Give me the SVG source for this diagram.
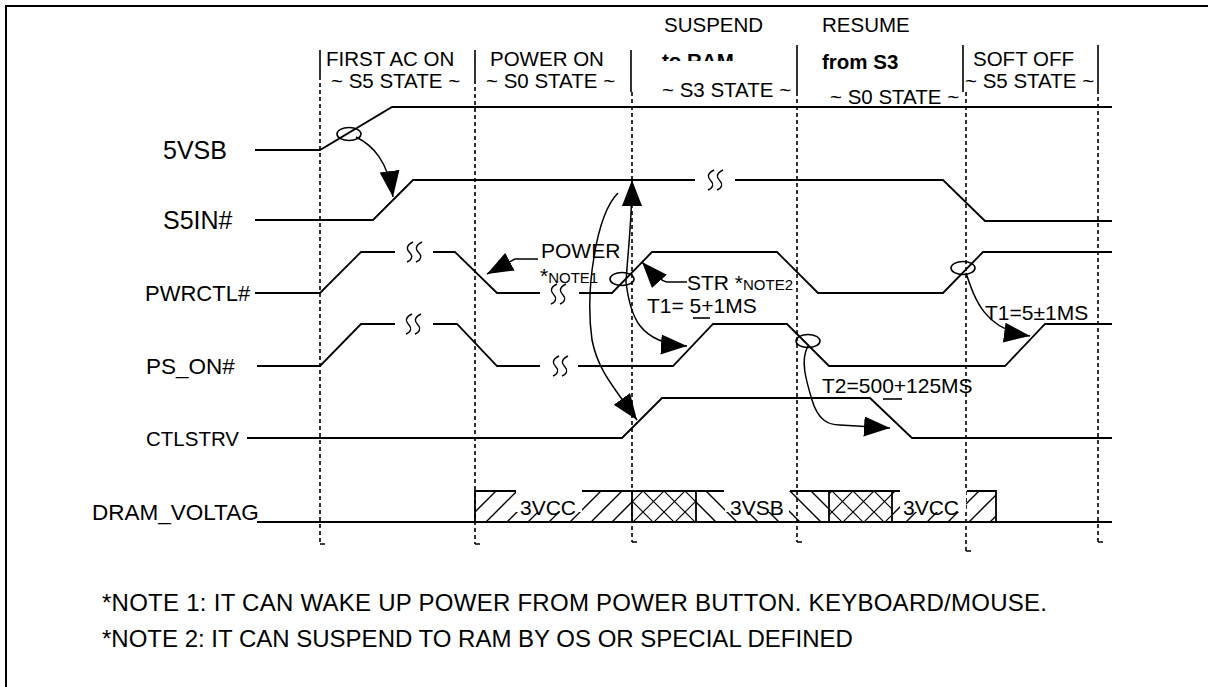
<svg xmlns="http://www.w3.org/2000/svg" width="1208" height="687" viewBox="0 0 1208 687">
<style>
.t{font-family:"Liberation Sans",Arial,sans-serif;font-size:21px;fill:#000}
.h{font-size:20.5px}
.note{font-size:24px}
.b{font-weight:bold}
.sm{font-size:15px}
.sig{fill:none;stroke:#000;stroke-width:1.8;stroke-linejoin:miter}
.sq{fill:none;stroke:#000;stroke-width:1.4}
.dash{fill:none;stroke:#000;stroke-width:1.6;stroke-dasharray:4 3}
.bar{fill:none;stroke:#000;stroke-width:1.6}
.arr{fill:none;stroke:#000;stroke-width:1.5}
.ell{fill:none;stroke:#000;stroke-width:1.6}
.box{fill:none;stroke:#000;stroke-width:1.8}
</style>
<defs>
<marker id="ah" markerUnits="userSpaceOnUse" markerWidth="28" markerHeight="22" refX="26" refY="10" orient="auto" viewBox="0 0 28 22">
<path d="M0,0 L26,10 L0,20 z" fill="#000"/>
</marker>
<pattern id="fwd" patternUnits="userSpaceOnUse" x="475" y="491" width="21" height="21">
<path d="M-2,2 l4,-4 M0,21 l21,-21 M19,23 l4,-4" stroke="#000" stroke-width="1.4"/>
</pattern>
<pattern id="bwd" patternUnits="userSpaceOnUse" x="475" y="491" width="21" height="21">
<path d="M-2,19 l4,4 M0,0 l21,21 M19,-2 l4,4" stroke="#000" stroke-width="1.4"/>
</pattern>
<pattern id="crs" patternUnits="userSpaceOnUse" x="475" y="491" width="21" height="21">
<path d="M-2,2 l4,-4 M0,21 l21,-21 M19,23 l4,-4 M-2,19 l4,4 M0,0 l21,21 M19,-2 l4,4" stroke="#000" stroke-width="1.2"/>
</pattern>
<clipPath id="clipRam"><rect x="640" y="0" width="160" height="61"/></clipPath>
</defs>
<rect width="1208" height="687" fill="#fff"/>
<g id="frame">
<path d="M6,687 L6,6 L1208,6" fill="none" stroke="#000" stroke-width="2"/>
</g>
<g id="header">
<text class="t h" x="326" y="66">FIRST AC ON</text>
<text class="t h" x="331" y="88">~ S5 STATE ~</text>
<text class="t h" x="490" y="66">POWER ON</text>
<text class="t h" x="486" y="88">~ S0 STATE ~</text>
<text class="t h" x="664" y="32">SUSPEND</text>
<text class="t h b" x="662" y="68" clip-path="url(#clipRam)">to RAM</text>
<text class="t h" x="662" y="97">~ S3 STATE ~</text>
<text class="t h" x="822" y="32">RESUME</text>
<text class="t h b" x="822" y="69">from S3</text>
<text class="t h" x="830" y="104">~ S0 STATE ~</text>
<text class="t h" x="973" y="66">SOFT OFF</text>
<text class="t h" x="965" y="88">~ S5 STATE ~</text>
</g>
<g id="gridlines">
<path class="bar" d="M320,50 V76 M475,50 V80 M631,50 V92 M797,45 V92 M963,45 V92 M1098,45 V90"/>
<path class="dash" d="M320,76 V544 M475,80 V544 M632,92 V542 M797,92 V542 M966,92 V551 M1098,90 V542"/>
<path class="bar" d="M320,544 h5 M475,544 h5 M632,542 h5 M797,542 h5 M966,551 h5 M1098,542 h5"/>
</g>
<g id="labels">
<text class="t" x="163" y="159" style="font-size:25px">5VSB</text>
<text class="t" x="163" y="229" style="font-size:25px">S5IN#</text>
<text class="t" x="145" y="301" style="font-size:22px">PWRCTL#</text>
<text class="t" x="146" y="374" style="font-size:22.5px">PS_ON#</text>
<text class="t" x="146" y="446" style="font-size:20.5px">CTLSTRV</text>
<text class="t" x="92" y="520" style="font-size:22.5px">DRAM_VOLTAG</text>
</g>
<g id="sig-5vsb">
<path class="sig" d="M255,150 L320,150 L392,107 L1112,107"/>
</g>
<g id="sig-s5in">
<path class="sig" d="M255,220 L373,220 L413,180 L695,180 M735,180 L943,180 L985,221 L1112,221"/>
<path class="sq" d="M714,170 C706,174 708,178 711,181 C714,184 713,188 708,190 M723,170 C715,174 717,178 720,181 C723,184 722,188 717,190"/>
</g>
<g id="sig-pwrctl">
<path class="sig" d="M255,293 L320,293 L361,252 L395,252 M433,252 L455,252 L497,293 L540,293 M579,293 L612,293 L652,252 L777,252 L818,293 L943,293 L983,252 L1112,252"/>
<path class="sq" d="M413,242 C405,246 407,250 410,253 C413,256 412,260 407,262 M422,242 C414,246 416,250 419,253 C422,256 421,260 416,262"/>
<path class="sq" d="M557,284 C549,288 551,292 554,295 C557,298 556,302 551,304 M566,284 C558,288 560,292 563,295 C566,298 565,302 560,304"/>
</g>
<g id="sig-pson">
<path class="sig" d="M257,366 L320,366 L361,324 L395,324 M433,324 L457,324 L497,366 L540,366 M578,366 L673,366 L713,324 L787,324 L829,366 L1005,366 L1045,324 L1112,324"/>
<path class="sq" d="M412,314 C404,318 406,322 409,325 C412,328 411,332 406,334 M421,314 C413,318 415,322 418,325 C421,328 420,332 415,334"/>
<path class="sq" d="M559,356 C551,360 553,364 556,367 C559,370 558,374 553,376 M568,356 C560,360 562,364 565,367 C568,370 567,374 562,376"/>
</g>
<g id="sig-ctlstrv">
<path class="sig" d="M247,438 L622,438 L662,398 L870,398 L912,438 L1112,438"/>
</g>
<g id="sig-dram">
<rect x="475" y="491" width="157" height="31" fill="url(#fwd)"/>
<rect x="632" y="491" width="64" height="31" fill="url(#crs)"/>
<rect x="696" y="491" width="133" height="31" fill="url(#bwd)"/>
<rect x="829" y="491" width="63" height="31" fill="url(#crs)"/>
<rect x="892" y="491" width="104" height="31" fill="url(#fwd)"/>
<rect x="516" y="488" width="66" height="24" fill="#fff"/>
<rect x="725" y="488" width="64" height="24" fill="#fff"/>
<rect x="900" y="488" width="66" height="24" fill="#fff"/>
<path class="box" d="M257,522 L1112,522 M475,522 V491 H516 M582,491 H724 M790,491 H900 M967,491 H996 V522 M632,491 V522 M696,491 V522 M829,491 V522 M892,491 V522"/>
<text class="t" x="520" y="515">3VCC</text>
<text class="t" x="730" y="515">3VSB</text>
<text class="t" x="903" y="515">3VCC</text>
</g>
<g id="connectors">
<ellipse class="ell" cx="349" cy="134" rx="12" ry="6.5"/>
<ellipse class="ell" cx="622" cy="279" rx="12" ry="6.5"/>
<ellipse class="ell" cx="963" cy="268" rx="12" ry="6.5"/>
<ellipse class="ell" cx="808" cy="341" rx="12" ry="6.5"/>
<path class="arr" marker-end="url(#ah)" d="M356,137 C372,145 388,160 393,197"/>
<path class="arr" marker-end="url(#ah)" d="M626,282 C628,250 632,220 632,180"/>
<path class="arr" marker-end="url(#ah)" d="M626,282 C630,315 638,343 687,346"/>
<path class="arr" marker-end="url(#ah)" d="M618,193 C596,215 585,290 592,340 C598,370 612,385 637,420"/>
<path class="arr" marker-end="url(#ah)" d="M538,259 L515,259 L487,274"/>
<path class="arr" marker-end="url(#ah)" d="M687,282 L668,282 Q660,282 642,262"/>
<path class="arr" marker-end="url(#ah)" d="M966,273 C975,300 985,330 1030,336"/>
<path class="arr" marker-end="url(#ah)" d="M808,346 C800,360 806,380 812,400 C818,420 828,425 840,425 L890,428"/>
</g>
<g id="annotations">
<text class="t" x="541" y="258">POWER</text>
<text class="t" x="540" y="283">*<tspan class="sm">NOTE1</tspan></text>
<text class="t" x="687" y="290">STR <tspan>*</tspan><tspan class="sm">NOTE2</tspan></text>
<text class="t" x="647" y="313">T1= 5+1MS</text>
<path class="bar" d="M693,318 H710"/>
<text class="t" x="985" y="320">T1=5±1MS</text>
<text class="t" x="822" y="393">T2=500+125MS</text>
<path class="bar" d="M883,399 H902"/>
</g>
<g id="notes">
<text class="t note" x="102" y="611" textLength="945" lengthAdjust="spacing">*NOTE 1: IT CAN WAKE UP POWER FROM POWER BUTTON. KEYBOARD/MOUSE.</text>
<text class="t note" x="102" y="647">*NOTE 2: IT CAN SUSPEND TO RAM BY OS OR SPECIAL DEFINED</text>
</g>
</svg>
